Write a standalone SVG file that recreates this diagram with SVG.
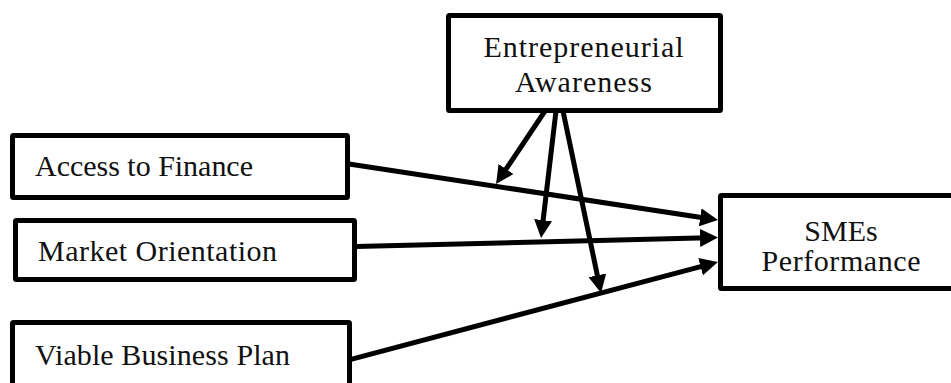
<svg xmlns="http://www.w3.org/2000/svg" width="951" height="383" viewBox="0 0 951 383">
<style>
.box{fill:#fff;stroke:#000;stroke-width:5;stroke-linejoin:round}
.lbl{font-family:"Liberation Serif","Times New Roman",serif;font-size:30px;fill:#111}
.mid{text-anchor:middle}
.conn{stroke:#000;stroke-width:5;fill:none;marker-end:url(#ah)}
</style>
<defs>
<marker id="ah" markerUnits="userSpaceOnUse" viewBox="0 0 18 18" refX="8" refY="9" markerWidth="18" markerHeight="18" orient="auto">
<path d="M0,0 L18,9 L0,18 z" fill="#000"/>
</marker>
</defs>
<rect width="951" height="383" fill="#fff"/>
<g id="ea">
<rect class="box" x="448.5" y="15.5" width="272" height="95" rx="1"/>
<text class="lbl mid" x="583.5" y="57" textLength="200" lengthAdjust="spacing">Entrepreneurial</text>
<text class="lbl mid" x="583.5" y="92" textLength="137" lengthAdjust="spacing">Awareness</text>
</g>
<g id="atf">
<rect class="box" x="12.5" y="135.5" width="335" height="62" rx="1"/>
<text class="lbl" x="35" y="176" textLength="218" lengthAdjust="spacing">Access to Finance</text>
</g>
<g id="mo">
<rect class="box" x="15.5" y="220.5" width="339" height="59" rx="1"/>
<text class="lbl" x="38" y="261" textLength="239" lengthAdjust="spacing">Market Orientation</text>
</g>
<g id="vbp">
<rect class="box" x="12.5" y="322.5" width="337" height="80" rx="1"/>
<text class="lbl" x="35" y="365" textLength="255" lengthAdjust="spacing">Viable Business Plan</text>
</g>
<g id="sme">
<rect class="box" x="720.5" y="195.5" width="250" height="93" rx="1"/>
<text class="lbl mid" x="841" y="241">SMEs</text>
<text class="lbl mid" x="841" y="271" textLength="159" lengthAdjust="spacing">Performance</text>
</g>
<g id="connectors">
<line class="conn" x1="349" y1="164" x2="708.1" y2="218.5"/>
<line class="conn" x1="356" y1="246.5" x2="708" y2="237.75"/>
<line class="conn" x1="351" y1="359.3" x2="708.3" y2="264.6"/>
<line class="conn" x1="545" y1="111" x2="501.6" y2="175.7"/>
<line class="conn" x1="556" y1="111" x2="542.2" y2="228.1"/>
<line class="conn" x1="563" y1="111" x2="599" y2="283.2"/>
</g>
</svg>
